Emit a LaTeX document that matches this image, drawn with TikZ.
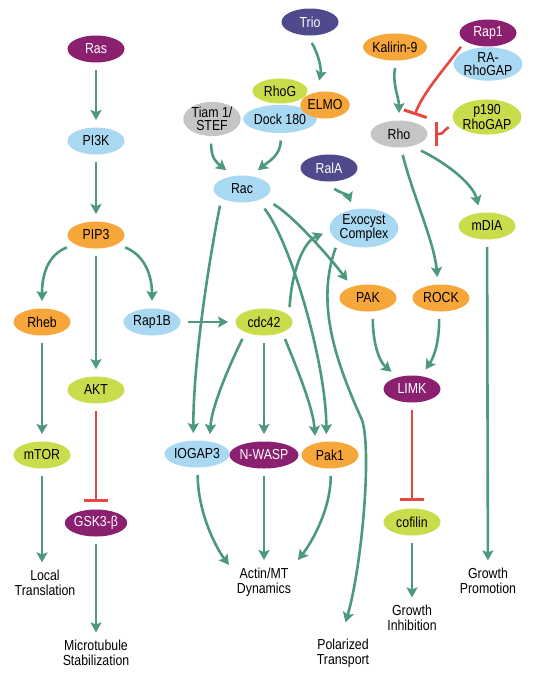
\documentclass[tikz,border=0pt]{standalone}
\usepackage{fontspec}
\setmainfont{Liberation Sans}[FakeStretch=0.85]
\usetikzlibrary{arrows.meta,shapes.geometric}
\definecolor{cteal}{HTML}{4C9980}
\definecolor{cred}{HTML}{E8473F}
\definecolor{cpurple}{HTML}{8C2070}
\definecolor{cnavy}{HTML}{4E4A8C}
\definecolor{cblue}{HTML}{A8D8F2}
\definecolor{corange}{HTML}{F7A63A}
\definecolor{cgreen}{HTML}{C9DC4C}
\definecolor{cgray}{HTML}{C5C5C5}
\tikzset{
  bio/.style={ellipse, minimum width=57pt, minimum height=27pt, inner sep=0pt, outer sep=7.5pt,
    font=\fontsize{14.5}{13.5}\selectfont, align=center},
  pu/.style={bio, fill=cpurple, text=white},
  nv/.style={bio, fill=cnavy, text=white},
  bl/.style={bio, fill=cblue, text=black},
  orn/.style={bio, fill=corange, text=black},
  gr/.style={bio, fill=cgreen, text=black},
  gy/.style={bio, fill=cgray, text=black},
  lbl/.style={font=\fontsize{14.5}{14.5}\selectfont, align=center, inner sep=0pt, outer sep=8pt},
  ar/.style={draw=cteal, line width=2.6pt, -{Stealth[length=10pt,width=11pt,inset=2pt]}},
  ih/.style={draw=cred, line width=2.6pt, -{Bar[width=24pt,line width=3pt]}}
}
\begin{document}
\begin{tikzpicture}[x=1pt,y=-1pt]
\fill[white] (0,0) rectangle (534,680);
\useasboundingbox (0,0) rectangle (534,680);
% left column
\node[pu] (ras) at (96,49) {Ras};
\node[bl] (pi3k) at (96,141) {PI3K};
\node[orn] (pip3) at (96,235) {PIP3};
\node[orn] (rheb) at (42,322) {Rheb};
\node[bl] (rapb) at (152,322) {Rap1B};
\node[gr] (akt) at (96,390) {AKT};
\node[gr] (mtor) at (42,455) {mTOR};
\node[pu] (gsk) at (96,523) {GSK3-β};
% middle
\node[nv] (trio) at (310,22) {Trio};
\node[gr, minimum width=55pt, minimum height=25pt] (rhog) at (280,91) {RhoG};
\node[bl, minimum width=54pt, minimum height=28pt] (dock) at (280,119) {Dock 180};
\node[orn, minimum width=48pt] (elmo) at (325,105) {ELMO};
\node[gy, minimum height=28pt] (tiam) at (212,119) {Tiam 1/\\STEF};
\node[bl] (rac) at (242,189) {Rac};
\node[nv] (rala) at (329,168) {RalA};
\node[bl, minimum height=30pt] (exo) at (364,228) {Exocyst\\Complex};
\node[gr] (cdc) at (264,322) {cdc42};
\node[bl] (iq) at (197,454) {IOGAP3};
\node[pu] (nw) at (264,455) {N-WASP};
\node[orn] (pak1) at (330,455) {Pak1};
% right
\node[orn] (kal) at (395,47) {Kalirin-9};
\node[bl, minimum height=32pt] (rara) at (488,64) {RA-\\RhoGAP};
\node[pu] (rap1) at (488,33) {Rap1};
\node[gr, minimum height=28pt] (p190) at (487,117) {p190\\RhoGAP};
\node[gy] (rho) at (399,134) {Rho};
\node[gr] (mdia) at (487,226) {mDIA};
\node[orn] (pak) at (368,298) {PAK};
\node[orn] (rock) at (441,298) {ROCK};
\node[pu] (limk) at (412,389) {LIMK};
\node[gr] (cof) at (412,522) {cofilin};
% labels
\node[lbl] (lt) at (45,583) {Local\\Translation};
\node[lbl] (ms) at (96,653) {Microtubule\\Stabilization};
\node[lbl] (ad) at (264,582) {Actin/MT\\Dynamics};
\node[lbl] (pt) at (343,653) {Polarized\\Transport};
\node[lbl] (gi) at (412,618) {Growth\\Inhibition};
\node[lbl] (gp) at (488,581) {Growth\\Promotion};
\coordinate (bend) at (362,420);
% connectors
\draw[ar] (ras) -- (pi3k);
\draw[ar] (pi3k) -- (pip3);
\draw[ar] (pip3.203) .. controls +(-20,8) and +(0,-25) .. (rheb.north);
\draw[ar] (pip3) -- (akt);
\draw[ar] (pip3.337) .. controls +(20,8) and +(0,-25) .. (rapb.north);
\draw[ar] (rheb) -- (mtor);
\draw[ih] (akt) -- (gsk);
\draw[ar] (mtor) -- (mtor |- lt.north);
\draw[ar] (gsk) -- (ms);
\draw[ar] (rapb) -- (cdc);
\draw[ar, shorten >=4pt] (trio.275) .. controls +(8,14) and +(3,-14) .. (elmo.108);
\draw[ar] (tiam.268) .. controls +(0,15) and +(-10,-8) .. (rac.130);
\draw[ar] (dock.272) .. controls +(0,15) and +(10,-8) .. (rac.50);
\draw[ar] (rala.284) .. controls +(8,5) and +(-3,-8) .. (exo.117);
\draw[ar] (rac.217) .. controls +(-12,60) and +(0,-70) .. (iq.100);
\draw[ar, shorten <=3pt] (rac.320) .. controls +(28,35) and +(0,-70) .. (pak1.100);
\draw[ar, shorten <=4pt] (rac.335) .. controls +(25,15) and +(-15,-20) .. (pak.140);
\draw[ar] (cdc.30) .. controls +(2,-35) and +(-20,8) .. (exo.188);
\draw[ar, shorten >=9pt] (exo.215) .. controls +(-20,55) and +(-27,-60) .. (bend) .. controls +(10,30) and +(19,-65) .. (pt.north);
\draw[ar] (cdc.218) .. controls +(-10,20) and +(2,-30) .. (iq.57);
\draw[ar] (cdc) -- (nw);
\draw[ar] (cdc.321) .. controls +(8,20) and +(-2,-30) .. (pak1.128);
\draw[ar] (kal.south) .. controls +(-3,15) and +(0,-15) .. (rho.north);
\draw[ih] (rap1.207) .. controls +(-15,20) and +(7,-21) .. (rho.50);
\draw[ih] (p190.195) .. controls +(-8,5) and +(10,0) .. (rho.east);
\draw[ar] (rho.280) .. controls +(10,40) and +(-3,-35) .. (rock.100);
\draw[ar] (rho.323) .. controls +(30,15) and +(-5,-20) .. (mdia.113);
\draw[ar] (mdia) -- (gp);
\draw[ar] (pak.283) .. controls +(0,25) and +(-12,-10) .. (limk.140);
\draw[ar] (rock.265) .. controls +(0,25) and +(8,-12) .. (limk.55);
\draw[ih] (limk) -- (cof);
\draw[ar] (cof) -- (gi);
\draw[ar] (iq.272) .. controls +(0,35) and +(-15,-20) .. (ad.154);
\draw[ar] (nw) -- (ad);
\draw[ar] (pak1.272) .. controls +(0,35) and +(12,-15) .. (ad.33);
\end{tikzpicture}
\end{document}
